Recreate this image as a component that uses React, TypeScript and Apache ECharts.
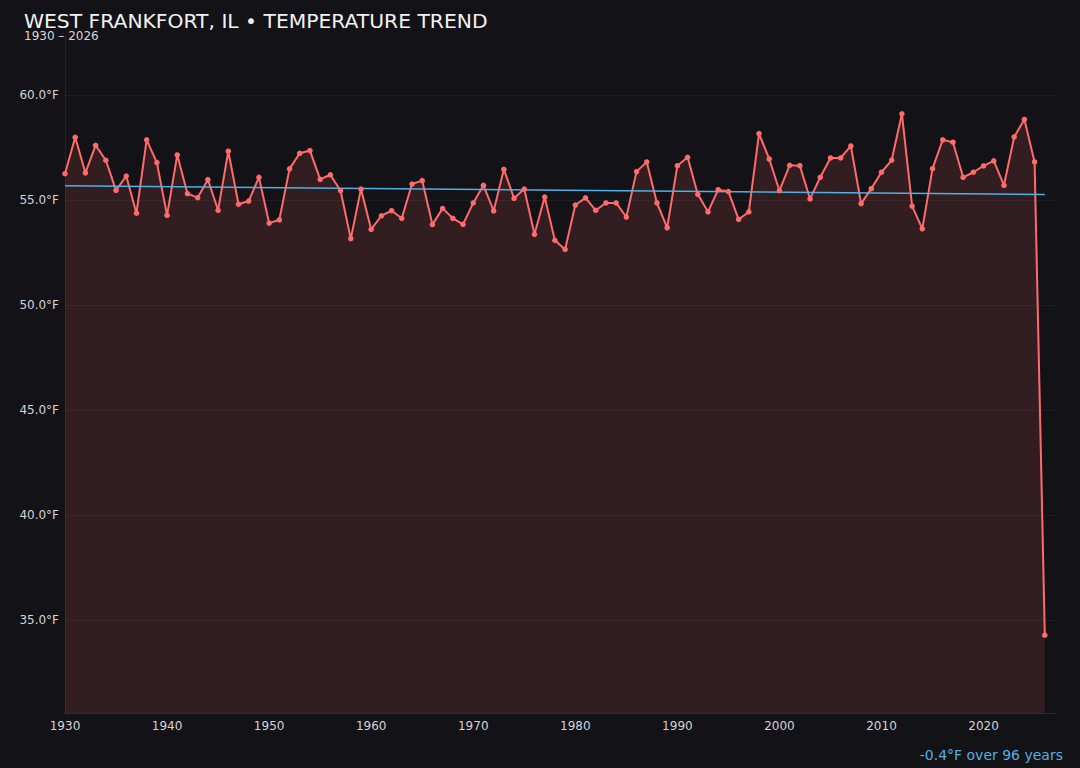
import { useEffect, useRef } from "react";
import * as echarts from "echarts";

// annual mean temperature, 1930 – 2026 (°F)
const startYear = 1930;
const temps = [
  56.25, 57.98, 56.29, 57.6, 56.89, 55.46, 56.14, 54.37, 57.86, 56.78,
  54.27, 57.14, 55.3, 55.11, 55.97, 54.51, 57.32, 54.8, 54.95, 56.08,
  53.9, 54.06, 56.48, 57.22, 57.35, 55.98, 56.2, 55.44, 53.16, 55.52,
  53.6, 54.25, 54.49, 54.13, 55.76, 55.92, 53.83, 54.6, 54.13, 53.84,
  54.86, 55.7, 54.48, 56.46, 55.08, 55.52, 53.37, 55.14, 53.08, 52.65,
  54.76, 55.1, 54.51, 54.86, 54.86, 54.19, 56.35, 56.81, 54.86, 53.68,
  56.63, 57.03, 55.27, 54.44, 55.49, 55.4, 54.08, 54.43, 58.16, 56.95,
  55.44, 56.65, 56.63, 55.05, 56.08, 57.0, 57.0, 57.57, 54.83, 55.54,
  56.32, 56.9, 59.1, 54.71, 53.63, 56.49, 57.86, 57.75, 56.08, 56.32,
  56.62, 56.86, 55.7, 58.0, 58.83, 56.81, 34.3,
];
const years = temps.map((_, i) => startYear + i);

// trend line end points
const trendYears = [1930, 2026];
const trendTemps = [55.68, 55.26];

// horizontal grid lines
const yTicks = [35, 40, 45, 50, 55, 60];

const title = "WEST FRANKFORT, IL • TEMPERATURE TREND";
const subtitle = "1930 – 2026";
const trendNote = "-0.4°F over 96 years";

const App = () => {
  const chartRef = useRef<HTMLDivElement>(null);

  useEffect(() => {
    const chart = echarts.init(chartRef.current!, null, { renderer: "svg" });
    chart.setOption({
      animation: false,
      backgroundColor: "#131217",
      textStyle: { fontFamily: "DejaVu Sans" },
      grid: { left: 65, right: 25, top: 36, bottom: 55 },
      graphic: [
        {
          type: "text",
          x: 24,
          y: 20.5,
          style: {
            text: title,
            fill: "#f2f2f2",
            font: "20.3px 'DejaVu Sans'",
            verticalAlign: "middle",
          },
        },
        {
          type: "text",
          x: 24,
          y: 35.5,
          style: {
            text: subtitle,
            fill: "#d8d8d8",
            font: "12px 'DejaVu Sans'",
            verticalAlign: "middle",
          },
        },
        {
          type: "text",
          x: 1063,
          y: 755,
          style: {
            text: trendNote,
            fill: "#4fb0e6",
            font: "14px 'DejaVu Sans'",
            align: "right",
            verticalAlign: "middle",
          },
        },
      ],
      xAxis: {
        type: "value",
        min: 1930,
        max: 2027,
        interval: 10,
        axisLine: { show: true, lineStyle: { color: "#2b2b35", width: 1 } },
        axisTick: { show: false },
        splitLine: { show: false },
        axisLabel: {
          color: "#d4d4d4",
          fontSize: 12,
          margin: 7,
          showMaxLabel: false,
          formatter: (v: number) => String(v),
        },
      },
      yAxis: {
        type: "value",
        min: 30.6,
        max: 62.8,
        axisLine: { show: true, lineStyle: { color: "#22222b", width: 1 } },
        axisTick: { show: false },
        splitLine: { show: false },
        axisLabel: {
          color: "#d4d4d4",
          fontSize: 12,
          margin: 6,
          showMinLabel: false,
          showMaxLabel: false,
          formatter: (v: number) => v.toFixed(1) + "°F",
        },
      },
      series: [
        {
          type: "line",
          data: years.map((y, i) => [y, temps[i]]),
          symbol: "circle",
          symbolSize: 5.5,
          lineStyle: { color: "#ff6b6b", width: 2 },
          itemStyle: { color: "#ff6b6b" },
          areaStyle: { color: "rgba(255,107,107,0.19)" },
          markLine: {
            silent: true,
            symbol: "none",
            label: { show: false },
            lineStyle: { color: "rgba(255,255,255,0.05)", type: "solid", width: 1 },
            data: yTicks.map((v) => ({ yAxis: v })),
            z: 1,
          },
        },
        {
          type: "line",
          data: trendYears.map((y, i) => [y, trendTemps[i]]),
          symbol: "none",
          lineStyle: { color: "#4fb0e6", width: 1.5 },
        },
      ],
    });
    return () => {
      chart.dispose();
    };
  }, []);

  return (
    <div
      ref={chartRef}
      style={{ position: "fixed", left: 0, top: 0, width: 1080, height: 768 }}
    />
  );
};

export default App;
